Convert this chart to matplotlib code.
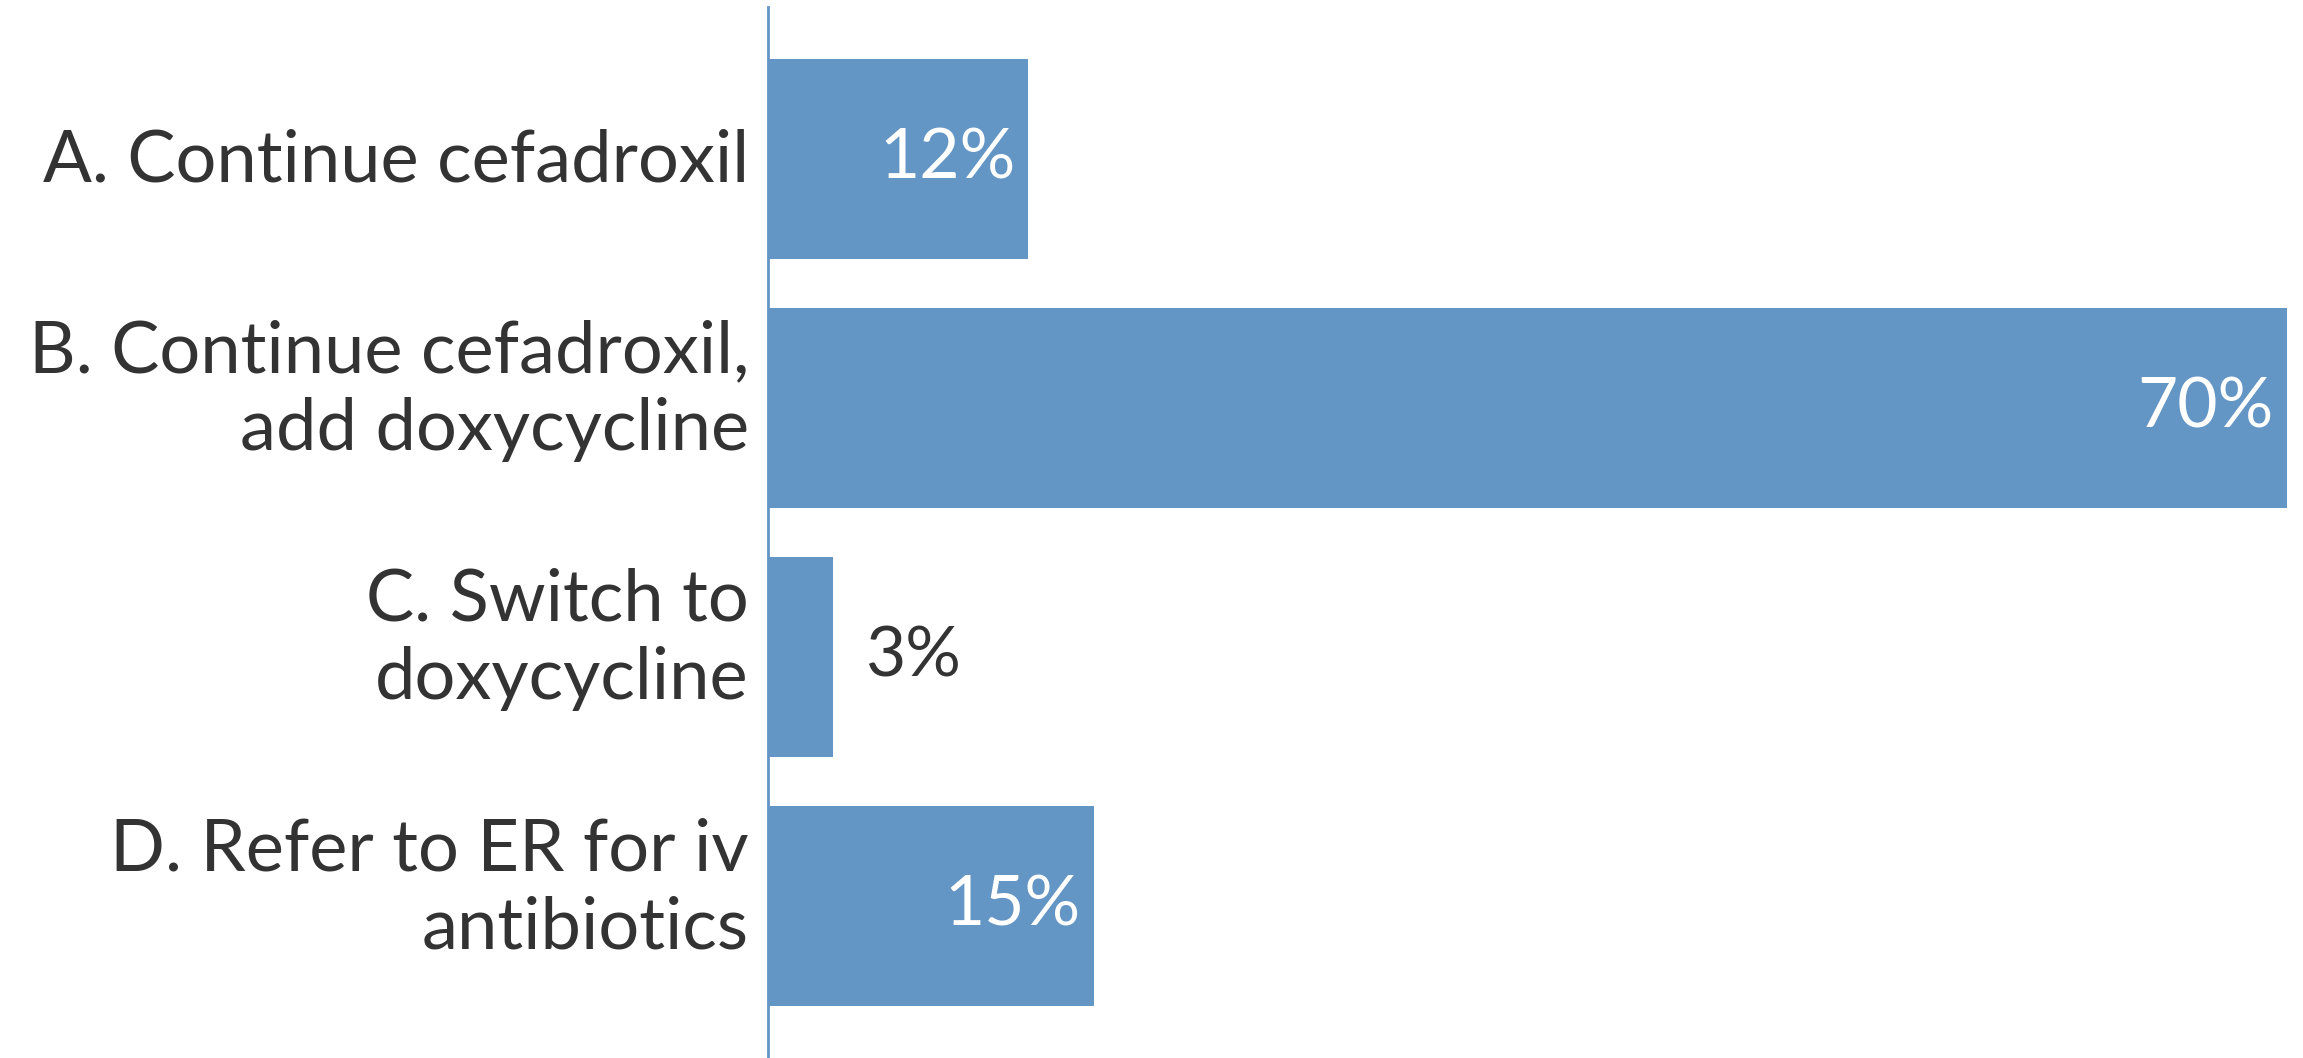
import numpy as np
import matplotlib
matplotlib.use('Agg')
from matplotlib import pyplot as plt

plt.rcParams['font.family'] = ['Lato', 'DejaVu Sans']

categories = ['A. Continue cefadroxil',
              'B. Continue cefadroxil,\nadd doxycycline',
              'C. Switch to\ndoxycycline',
              'D. Refer to ER for iv\nantibiotics']
values = [12, 70, 3, 15]
value_labels = ['12%', '70%', '3%', '15%']

bar_color = '#6395c5'
text_color = '#333333'

fig = plt.figure(figsize=(23.03, 10.58), dpi=100)
ax = fig.add_axes([768 / 2303, 0, 1535 / 2303, 1051 / 1058])

y = np.arange(len(categories))
ax.barh(y, values, height=0.8, color=bar_color)

ax.set_xlim(0, 1535 / 21.7)
ax.set_ylim(len(categories) - 0.39, -0.61)

ax.set_yticks([])
ax.set_xticks([])

# category labels drawn by hand so two-line ones sit a bit higher, like the original
for i, cat in enumerate(categories):
    shift = -0.07 if '\n' in cat else 0.01
    ax.text(-19 / 1535, i + shift, cat, transform=ax.get_yaxis_transform(),
            ha='right', va='center', fontsize=52, color=text_color, linespacing=1.25)

for side in ['top', 'right', 'bottom']:
    ax.spines[side].set_visible(False)
ax.spines['left'].set_color(bar_color)
ax.spines['left'].set_linewidth(2)

for i, (v, lab) in enumerate(zip(values, value_labels)):
    if v >= 10:
        ax.text(v - 0.6, i, lab, ha='right', va='center', fontsize=50, color='white')
    else:
        ax.text(v + 1.5, i, lab, ha='left', va='center', fontsize=50, color=text_color)

fig.savefig('out.png', dpi=100)
plt.close(fig)
